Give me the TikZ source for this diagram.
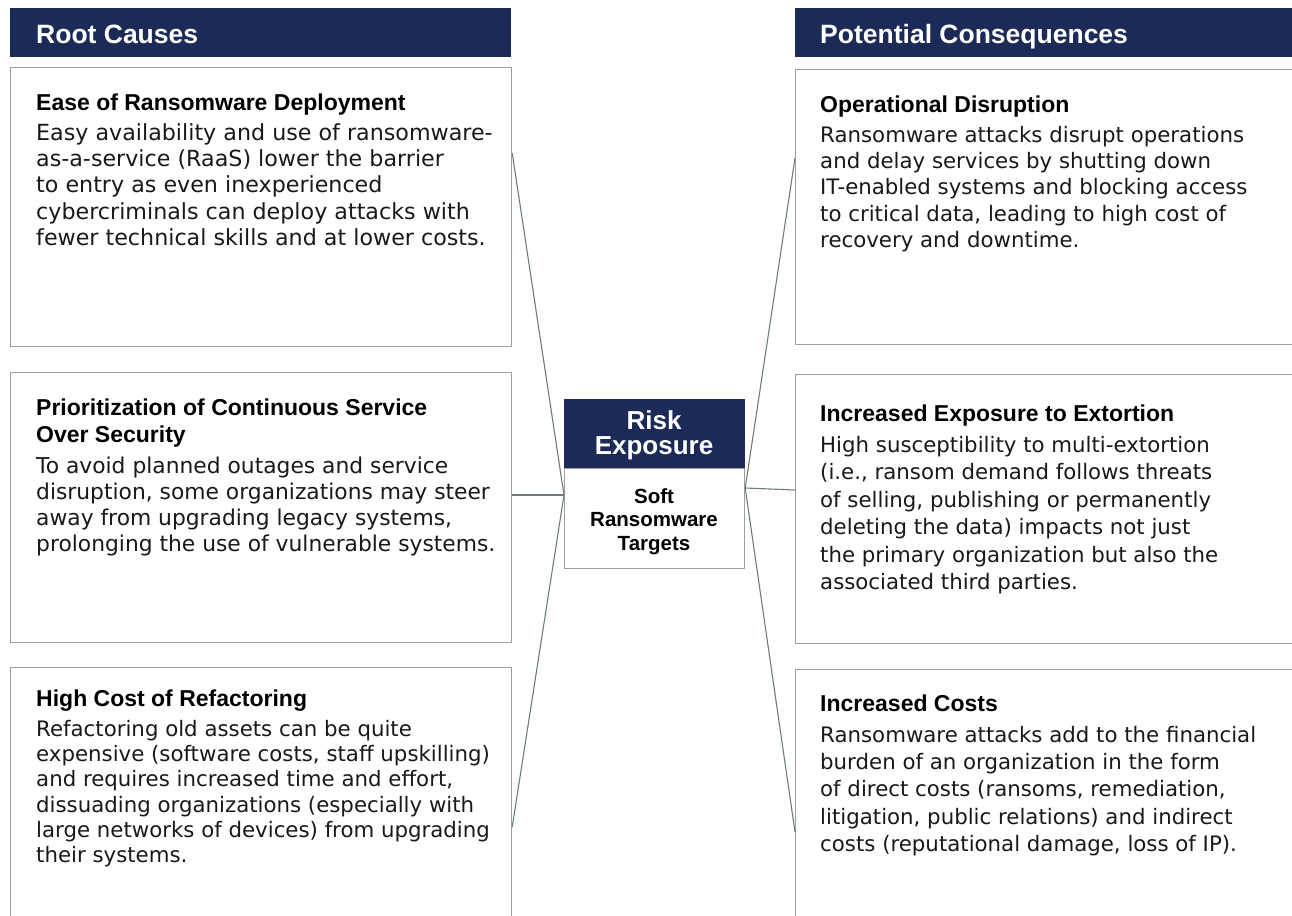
\documentclass[tikz,border=0pt]{standalone}
\usepackage{fontspec}
\setmainfont{DejaVu Sans}
\newfontfamily\hfont{Liberation Sans}
\definecolor{navy}{RGB}{27,42,86}
\definecolor{boxgray}{RGB}{158,158,158}
\definecolor{linkgray}{RGB}{110,124,124}
\tikzset{
  hdrbox/.style={fill=navy, draw=none, inner sep=0pt, anchor=north west, minimum height=49pt},
  panel/.style={draw=boxgray, line width=1.2pt, fill=white, inner sep=0pt, anchor=north west},
  hdrtext/.style={text=white, inner sep=0pt, anchor=base west, font=\hfont\bfseries\fontsize{26.5}{30}\selectfont},
  ttl/.style={text=black, inner sep=0pt, anchor=north west, align=left, font=\hfont\bfseries\fontsize{23}{27}\selectfont},
  bodytext/.style 2 args={text=black!90, inner sep=0pt, anchor=north west, align=left, font=\fontsize{#1}{#2}\selectfont},
  link/.style={draw=linkgray, line width=1.1pt},
}
\newcommand{\tst}{\rule{0pt}{19pt}}
\newcommand{\bst}{\rule{0pt}{17pt}}
\begin{document}
\begin{tikzpicture}[x=1pt,y=-1pt]
\useasboundingbox (0,0) rectangle (1292,915);
\clip (0,0) rectangle (1292,915);
\fill[white] (0,0) rectangle (1292,915);

% headers
\node[hdrbox, minimum width=501pt] (hl) at (10,8) {};
\node[hdrbox, minimum width=520pt] (hr) at (795,8) {};
\node[hdrtext] (hlt) at (36,44) {Root Causes};
\node[hdrtext] (hrt) at (820,44) {Potential Consequences};

% left panels
\node[panel, minimum width=501pt, minimum height=279pt] (lb1) at (10,67) {};
\node[panel, minimum width=501pt, minimum height=270pt] (lb2) at (10,372) {};
\node[panel, minimum width=501pt, minimum height=280pt] (lb3) at (10,667) {};
% right panels
\node[panel, minimum width=520pt, minimum height=275pt] (rb1) at (795,69) {};
\node[panel, minimum width=520pt, minimum height=269pt] (rb2) at (795,374) {};
\node[panel, minimum width=520pt, minimum height=280pt] (rb3) at (795,669) {};

% centre
\node[fill=navy, draw=navy, line width=1.2pt, inner sep=0pt, anchor=north west, minimum width=180pt, minimum height=69pt] (ctop) at (564,399) {};
\node[panel, minimum width=180pt, minimum height=100pt] (cbot) at (564,468) {};
\node[text=white, inner sep=0pt, anchor=north, align=center, font=\hfont\bfseries\fontsize{26}{25}\selectfont] (ctopt) at (654,409) {\rule{0pt}{20pt}Risk\\Exposure};
\node[text=black, inner sep=0pt, anchor=north, align=center, font=\hfont\bfseries\fontsize{20.5}{23.5}\selectfont] (cbott) at (654,486) {\rule{0pt}{17pt}Soft\\Ransomware\\Targets};

% connectors
\draw[link] ([yshift=-86pt]lb1.north east) -- ([yshift=-27pt]cbot.north west);
\draw[link] ([yshift=-123pt]lb2.north east) -- ([yshift=-27pt]cbot.north west);
\draw[link] ([yshift=-160pt]lb3.north east) -- ([yshift=-27pt]cbot.north west);
\draw[link] ([yshift=-89pt]rb1.north west) -- ([yshift=-20pt]cbot.north east);
\draw[link] ([yshift=-116pt]rb2.north west) -- ([yshift=-20pt]cbot.north east);
\draw[link] ([yshift=-163pt]rb3.north west) -- ([yshift=-20pt]cbot.north east);

% left texts
\node[ttl] (lb1t) at (36,91) {\tst Ease of Ransomware Deployment};
\node[bodytext={22.2}{26.3}] (lb1b) at (36,123) {\bst Easy availability and use of ransomware-\\as-a-service (RaaS) lower the barrier\\to entry as even inexperienced\\cybercriminals can deploy attacks with\\fewer technical skills and at lower costs.};

\node[ttl] (lb2t) at (36,396) {\tst Prioritization of Continuous Service\\Over Security};
\node[bodytext={21.8}{26}] (lb2b) at (36,456) {\bst To avoid planned outages and service\\disruption, some organizations may steer\\away from upgrading legacy systems,\\prolonging the use of vulnerable systems.};

\node[ttl] (lb3t) at (36,687) {\tst High Cost of Refactoring};
\node[bodytext={21.3}{25.3}] (lb3b) at (36,719) {\bst Refactoring old assets can be quite\\expensive (software costs, staff upskilling)\\and requires increased time and effort,\\dissuading organizations (especially with\\large networks of devices) from upgrading\\their systems.};

% right texts
\node[ttl] (rb1t) at (820,93) {\tst Operational Disruption};
\node[bodytext={21.3}{26.3}] (rb1b) at (820,125) {\bst Ransomware attacks disrupt operations\\and delay services by shutting down\\IT-enabled systems and blocking access\\to critical data, leading to high cost of\\recovery and downtime.};

\node[ttl] (rb2t) at (820,402) {\tst Increased Exposure to Extortion};
\node[bodytext={21.3}{27.5}] (rb2b) at (820,435) {\bst High susceptibility to multi-extortion\\(i.e., ransom demand follows threats\\of selling, publishing or permanently\\deleting the data) impacts not just\\the primary organization but also the\\associated third parties.};

\node[ttl] (rb3t) at (820,692) {\tst Increased Costs};
\node[bodytext={21.3}{27.3}] (rb3b) at (820,725) {\bst Ransomware attacks add to the financial\\burden of an organization in the form\\of direct costs (ransoms, remediation,\\litigation, public relations) and indirect\\costs (reputational damage, loss of IP).};
\end{tikzpicture}
\end{document}
